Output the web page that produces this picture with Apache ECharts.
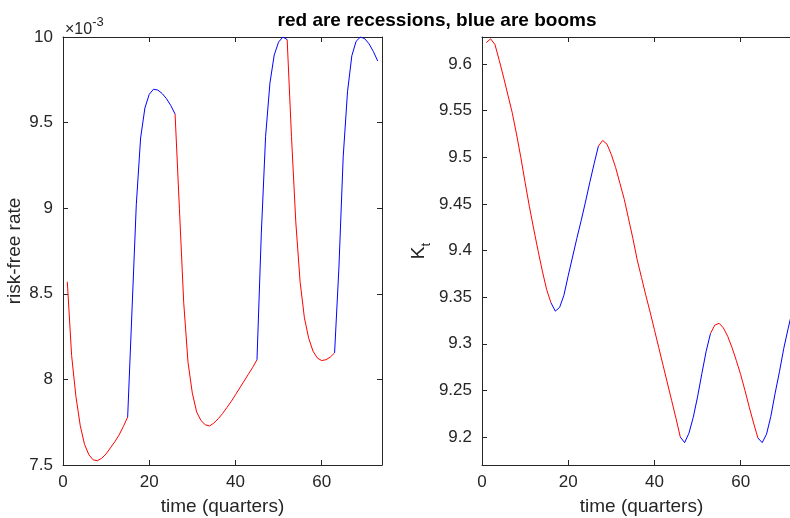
<!DOCTYPE html>
<html>
<head>
<meta charset="utf-8">
<script src="https://cdn.jsdelivr.net/npm/echarts@6/dist/echarts.min.js"></script>
<style>
	html, body { margin: 0; padding: 0; background: #fff; }
	#chart { width: 790px; height: 518px; }
</style>
</head>
<body>
<div id="chart"></div>
<script>
// quarters
var time = [];
for (var i = 1; i <= 73; i++) time.push(i);

// risk-free rate, in units of 1e-3
var rfRate = [
	8.57, 8.14, 7.90, 7.73, 7.62, 7.56, 7.53, 7.525, 7.54, 7.565,
	7.60, 7.635, 7.675, 7.725, 7.78, 8.40, 9.02, 9.41, 9.585, 9.665,
	9.695, 9.69, 9.67, 9.64, 9.60, 9.55, 9.00, 8.45, 8.10, 7.92,
	7.81, 7.76, 7.735, 7.728, 7.745, 7.77, 7.80, 7.835, 7.87, 7.91,
	7.95, 7.99, 8.03, 8.07, 8.115, 8.85, 9.42, 9.73, 9.895, 9.97,
	10.0, 9.985, 9.42, 8.92, 8.57, 8.36, 8.24, 8.165, 8.125, 8.11,
	8.115, 8.13, 8.155, 8.65, 9.30, 9.68, 9.89, 9.975, 10.0, 9.99,
	9.96, 9.915, 9.86
];

// capital K_t
var capital = [
	9.623, 9.627, 9.621, 9.604, 9.586, 9.567, 9.548, 9.525, 9.500, 9.473,
	9.447, 9.423, 9.400, 9.378, 9.358, 9.344, 9.335, 9.339, 9.352, 9.373,
	9.393, 9.413, 9.432, 9.452, 9.473, 9.493, 9.512, 9.518, 9.514, 9.503,
	9.489, 9.472, 9.455, 9.434, 9.413, 9.390, 9.371, 9.352, 9.334, 9.315,
	9.296, 9.277, 9.258, 9.239, 9.220, 9.200, 9.194, 9.204, 9.221, 9.243,
	9.268, 9.292, 9.311, 9.320, 9.322, 9.317, 9.308, 9.296, 9.282, 9.267,
	9.250, 9.232, 9.215, 9.199, 9.194, 9.203, 9.222, 9.247, 9.270, 9.295,
	9.316, 9.336, 9.355
];

// boom periods (first quarter, last quarter); everything else is recession
var rfBooms = [[15, 26], [45, 52], [63, 73]];
var kBooms = [[16, 27], [46, 53], [64, 73]];

var xTicks = [0, 20, 40, 60];
var rfTicks = [7.5, 8, 8.5, 9, 9.5, 10];
var kTicks = [9.2, 9.25, 9.3, 9.35, 9.4, 9.45, 9.5, 9.55, 9.6];

function splitRegimes(values, booms) {
	var red = [], blue = [];
	for (var i = 0; i < values.length; i++) {
		var t = time[i];
		var inBoom = false, inside = false;
		for (var j = 0; j < booms.length; j++) {
			if (t >= booms[j][0] && t <= booms[j][1]) inBoom = true;
			if (t > booms[j][0] && t < booms[j][1]) inside = true;
		}
		blue.push(inBoom ? [t, values[i]] : [t, '-']);
		red.push(!inside ? [t, values[i]] : [t, '-']);
	}
	return {red: red, blue: blue};
}

var rfSeries = splitRegimes(rfRate, rfBooms);
var kSeries = splitRegimes(capital, kBooms);

var axisCol = '#262626';
var font = 'Liberation Sans, Arial, sans-serif';
var fs = 17;   // tick labels
var lfs = 19;  // axis labels

function xAx(grid, pos, showLabel) {
	return {
		type: 'value', gridIndex: grid, position: pos,
		min: 0, max: 74,
		axisLine: {show: true, onZero: false, lineStyle: {color: axisCol, width: 1}},
		axisTick: {show: true, inside: true, length: 5, customValues: xTicks, lineStyle: {color: axisCol}},
		axisLabel: {show: showLabel, customValues: xTicks, color: axisCol, fontFamily: font, fontSize: fs, margin: 9},
		splitLine: {show: false},
		name: showLabel ? 'time (quarters)' : '',
		nameLocation: 'middle', nameGap: 32,
		nameTextStyle: {color: axisCol, fontFamily: font, fontSize: lfs}
	};
}

function yAx(grid, pos, showLabel, mn, mx, ticks, name, gap) {
	return {
		type: 'value', gridIndex: grid, position: pos,
		min: mn, max: mx,
		axisLine: {show: true, onZero: false, lineStyle: {color: axisCol, width: 1}},
		axisTick: {show: true, inside: true, length: 5, customValues: ticks, lineStyle: {color: axisCol}},
		axisLabel: {show: showLabel, customValues: ticks, color: axisCol, fontFamily: font, fontSize: fs, margin: 10},
		splitLine: {show: false},
		name: name || '',
		nameLocation: 'middle', nameGap: gap || 0,
		nameTextStyle: {
			color: axisCol, fontFamily: font, fontSize: lfs,
			rich: {
				k: {fontSize: lfs, fontFamily: font, color: axisCol, lineHeight: 28, verticalAlign: 'middle'},
				t: {fontSize: 13, fontFamily: font, color: axisCol, lineHeight: 14, verticalAlign: 'bottom'}
			}
		}
	};
}

function lineS(data, color, xi, yi) {
	return {
		type: 'line', data: data, xAxisIndex: xi, yAxisIndex: yi,
		showSymbol: false, symbol: 'none', connectNulls: false,
		lineStyle: {color: color, width: 1}, itemStyle: {color: color},
		silent: true, animation: false
	};
}

var myChart = echarts.init(document.getElementById('chart'));
var option = {
	backgroundColor: '#fff',
	animation: false,
	title: {
		text: 'red are recessions, blue are booms',
		left: 432, top: 6, textAlign: 'center',
		textStyle: {fontFamily: font, fontSize: 19, fontWeight: 'bold', color: '#000'}
	},
	grid: [
		{left: 63, top: 37, width: 319, height: 428, outerBoundsMode: 'none'},
		{left: 482, top: 37, width: 319, height: 428, outerBoundsMode: 'none'}
	],
	xAxis: [xAx(0, 'bottom', true), xAx(0, 'top', false), xAx(1, 'bottom', true), xAx(1, 'top', false)],
	yAxis: [
		yAx(0, 'left', true, 7.5, 10, rfTicks, 'risk-free rate', 39),
		yAx(0, 'right', false, 7.5, 10, rfTicks),
		yAx(1, 'left', true, 9.17, 9.629, kTicks, '{k|K}{t|t}', 49),
		yAx(1, 'right', false, 9.17, 9.629, kTicks)
	],
	graphic: [{
		type: 'text', left: 65, top: 16,
		style: {
			text: '{a|×10}{b|-3}',
			rich: {
				a: {fontFamily: font, fontSize: 16, fill: axisCol, verticalAlign: 'bottom', lineHeight: 22},
				b: {fontFamily: font, fontSize: 13, fill: axisCol, verticalAlign: 'top', lineHeight: 14}
			}
		}
	}],
	series: [
		lineS(rfSeries.red, '#ff0000', 0, 0),
		lineS(rfSeries.blue, '#0000ff', 0, 0),
		lineS(kSeries.red, '#ff0000', 2, 2),
		lineS(kSeries.blue, '#0000ff', 2, 2)
	]
};
myChart.setOption(option);
</script>
</body>
</html>
